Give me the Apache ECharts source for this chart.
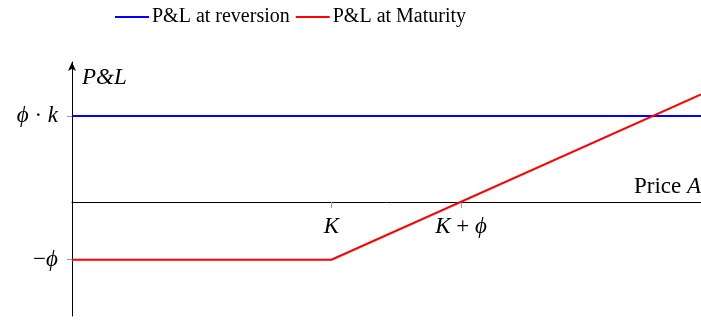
<!DOCTYPE html>
<html>
<head>
<meta charset="utf-8">
<script src="https://cdn.jsdelivr.net/npm/echarts@6/dist/echarts.min.js"></script>
<style>
    html, body { margin: 0; padding: 0; background: #fff; }
    #chart { width: 701px; height: 320px; }
</style>
</head>
<body>
<div id="chart"></div>
<script>
// data (units: K = 2, phi = 1)
var reversionX = [0, 4.85];
var reversionY = [1.48, 1.48];
var maturityX = [0, 2, 4.85];
var maturityY = [-1, -1, 1.85];

var xTickValues = [2, 3];
var xTickLabels = ['{i|K}', '{i|K}{n| + }{i|ϕ}'];
var yTickValues = [1.48, -1];
var yTickLabels = ['{i|ϕ}{n| · }{i|k}', '{n|−}{i|ϕ}'];

var serif = 'Liberation Serif';

function pairs(xs, ys) {
    var out = [];
    for (var i = 0; i < xs.length; i++) {
        out.push([xs[i], ys[i]]);
    }
    return out;
}

var labelRich = {
    i: { fontFamily: serif, fontStyle: 'italic', fontSize: 23, color: '#000' },
    n: { fontFamily: serif, fontSize: 23, color: '#000' }
};

var chart = echarts.init(document.getElementById('chart'));

var option = {
    animation: false,
    legend: {
        left: 110,
        top: 2,
        icon: 'rect',
        itemWidth: 34,
        itemHeight: 2,
        itemGap: 6,
        textStyle: { fontFamily: serif, fontSize: 20, color: '#000', padding: [0, 0, 0, -2] },
        data: ['P&L at reversion', 'P&L at Maturity']
    },
    grid: { left: 72, right: 0, top: 62, bottom: 4, outerBoundsMode: 'none', containLabel: false },
    xAxis: {
        type: 'value',
        min: 0,
        max: 4.85,
        position: 'bottom',
        offset: -114,
        name: '{n|Price }{i|A}',
        nameLocation: 'end',
        nameGap: 0,
        nameTextStyle: {
            align: 'right',
            verticalAlign: 'bottom',
            padding: [0, 0, 4, 0],
            rich: labelRich
        },
        axisLine: { onZero: false, lineStyle: { color: '#000', width: 1 } },
        axisTick: { show: true, length: 6, customValues: xTickValues, lineStyle: { color: '#999' } },
        axisLabel: {
            margin: 13,
            customValues: xTickValues,
            formatter: function (v) {
                return xTickLabels[xTickValues.indexOf(v)];
            },
            rich: labelRich
        },
        splitLine: { show: false }
    },
    yAxis: {
        type: 'value',
        min: -1.97,
        max: 2.41,
        name: '{i|P&L}',
        nameLocation: 'end',
        nameGap: -4,
        nameTextStyle: {
            align: 'left',
            verticalAlign: 'top',
            padding: [0, 0, 0, 10],
            rich: labelRich
        },
        axisLine: {
            onZero: false,
            symbol: ['none', 'arrow'],
            symbolSize: [6, 9],
            lineStyle: { color: '#000', width: 1 }
        },
        axisTick: { show: true, length: 5, customValues: yTickValues, lineStyle: { color: '#999' } },
        axisLabel: {
            margin: 14,
            customValues: yTickValues,
            formatter: function (v) {
                return yTickLabels[yTickValues.indexOf(v)];
            },
            rich: labelRich
        },
        splitLine: { show: false }
    },
    series: [
        {
            name: 'P&L at reversion',
            type: 'line',
            data: pairs(reversionX, reversionY),
            symbol: 'none',
            color: '#0000ff',
            lineStyle: { color: '#0000ff', width: 2 }
        },
        {
            name: 'P&L at Maturity',
            type: 'line',
            data: pairs(maturityX, maturityY),
            symbol: 'none',
            color: '#ff0000',
            lineStyle: { color: '#ff0000', width: 2 }
        }
    ]
};

chart.setOption(option);
</script>
</body>
</html>
